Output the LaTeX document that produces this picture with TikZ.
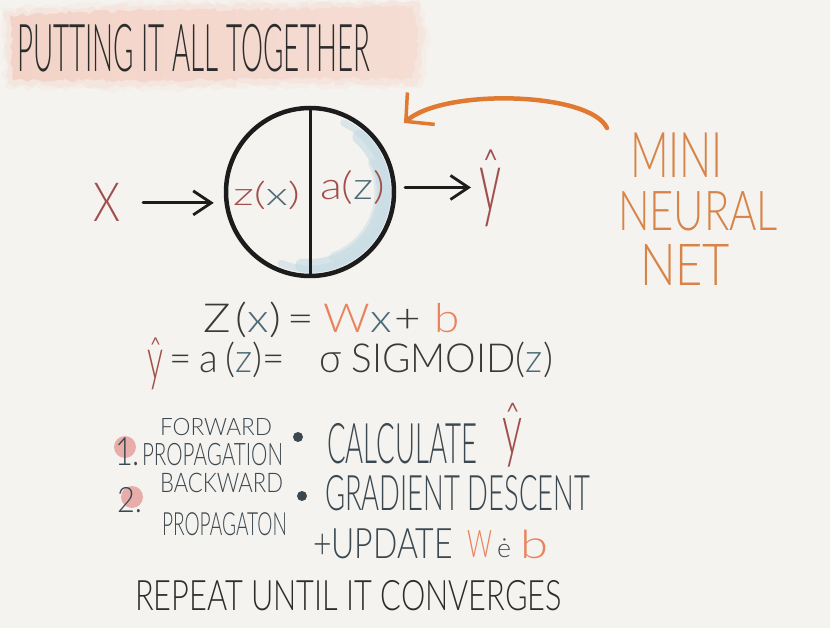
\documentclass[tikz,border=0pt]{standalone}
\usepackage{fontspec}
\usepackage{graphicx}
\usetikzlibrary{arrows.meta,decorations.pathmorphing}
\newfontfamily\hand{Lato Light}
\definecolor{bg}{HTML}{F4F3EF}
\definecolor{washL}{HTML}{F3D3C8}
\definecolor{washM}{HTML}{EFC3B5}
\definecolor{washR}{HTML}{F5DDD4}
\definecolor{titleink}{HTML}{2C2C2C}
\definecolor{ink}{HTML}{1C1C1C}
\definecolor{hred}{HTML}{A14F4C}
\definecolor{hblue}{HTML}{4E6A76}
\definecolor{orarrow}{HTML}{E07A32}
\definecolor{ortext}{HTML}{D88448}
\definecolor{wb}{HTML}{E8835E}
\definecolor{eqdark}{HTML}{3A3A3A}
\definecolor{stepink}{HTML}{3C4850}
\definecolor{pinkdot}{HTML}{E6A09D}
\definecolor{lblue}{HTML}{C3DAE3}
\newcommand\hw[3]{\resizebox{#1}{\height}{\fontsize{#2}{#2}\selectfont\hand #3}}
\newcommand\yhat[3]{\resizebox*{#1}{#2}{\fontsize{#3}{#3}\selectfont\hand ŷ}}
\begin{document}
\begin{tikzpicture}[x=1pt,y=-1pt,
  txt/.style={inner sep=0pt, outer sep=0pt, anchor=base west},
  ytx/.style={inner sep=0pt, outer sep=0pt, anchor=north west, text=hred},
  arr/.style={line width=2.8pt, draw=ink, line cap=round,
    -{Straight Barb[length=18pt,width=24pt]}}]
\pgfmathsetseed{7}
\fill[bg] (0,0) rectangle (830,628);
\useasboundingbox (0,0) rectangle (830,628);
% title wash (soft layered)
\fill[washR, opacity=.25, decorate, decoration={random steps,segment length=6pt,amplitude=3pt}]
  (2,8) -- (150,2) -- (300,1) -- (420,0) -- (429,30) -- (426,62) -- (421,88) -- (300,87) -- (150,90) -- (4,88) -- cycle;
\fill[washR, opacity=.45, decorate, decoration={random steps,segment length=5pt,amplitude=3pt}]
  (5,11) -- (150,5) -- (300,4) -- (417,2) -- (425,30) -- (422,62) -- (417,85) -- (300,83) -- (150,87) -- (7,85) -- cycle;
\shade[left color=washL, middle color=washM, right color=washR, decorate, decoration={random steps,segment length=4pt,amplitude=2pt}]
  (10,15) -- (150,10) -- (300,9) -- (412,6) -- (419,30) -- (416,60) -- (412,79) -- (300,78) -- (150,81) -- (13,80) -- cycle;
\node[txt, text=titleink] (title) at (17,72) {\hw{353pt}{66pt}{PUTTING IT ALL TOGETHER}};
% blue crescent
\draw[lblue, line width=7pt, opacity=.55, line cap=round] ([shift={(-64:77)}]310,192) arc[start angle=-64, end angle=112, radius=77];
\draw[lblue, line width=14pt, opacity=.6, line cap=round] ([shift={(-48:74)}]310,192) arc[start angle=-48, end angle=96, radius=74];
\draw[lblue, line width=9pt, opacity=.45, line cap=round] ([shift={(-25:69)}]310,192) arc[start angle=-25, end angle=70, radius=69];
% neuron
\node[circle, draw=ink, line width=4.5pt, minimum size=168pt, inner sep=0pt] (neuron) at (310,192) {};
\draw[ink, line width=3pt, shorten <=2pt, shorten >=2pt] (neuron.north) -- (neuron.south);
\node[txt] (zx) at (233,206) {\hw{67pt}{32pt}{\color{hred}z(\color{hblue}x\color{hred})}};
\node[txt] (az) at (320,200) {\hw{65pt}{38pt}{\color{hred}a(\color{hblue}z\color{hred})}};
% X and yhat
\node[txt, text=hred] (X) at (93,222) {\hw{27pt}{54pt}{X}};
\node[ytx] (yh) at (479,150) {\yhat{22pt}{77pt}{60pt}};
\draw[arr, shorten <=23pt, shorten >=10pt] (X.east) -- (X.east -| neuron.west);
\draw[arr, shorten <=9pt, shorten >=8pt] (neuron.3) -- (neuron.3 -| yh.west);
% mini neural net
\node[txt, text=ortext] (mini) at (630,178) {\hw{93pt}{63pt}{MINI}};
\node[txt, text=ortext] (neural) at (618,231) {\hw{160pt}{55pt}{NEURAL}};
\node[txt, text=ortext] (net) at (640,286) {\hw{90pt}{58pt}{NET}};
\coordinate (mstart) at (607,128);
\coordinate (otip) at (404,123);
\draw[orarrow, line width=4.5pt, line cap=round, -{Straight Barb[length=20pt,width=42pt,line width=3.5pt]}]
  (mstart) .. controls (590,92) and (445,88) .. (otip);
% equations
\node[txt] (eq1) at (203,333) {\hw{257pt}{40pt}{\color{eqdark}Z\kern.12em(\color{hblue}x\color{eqdark})\kern.15em=\kern.2em\color{wb}W\color{hblue}x\kern.05em\color{eqdark}+\kern.3em\color{wb}b}};
\node[ytx] (eq2y) at (147,338) {\yhat{16pt}{52pt}{44pt}};
\node[txt] (eq2) at (169,373) {\hw{384pt}{40pt}{\color{eqdark}=\kern.2em a\kern.2em(\color{hblue}z\color{eqdark})=\hspace{0.9em}σ\kern.25em SIGMOID(\color{hblue}z\color{eqdark})}};
% steps
\fill[pinkdot, opacity=.85] (125,447) circle[radius=11];
\fill[pinkdot, opacity=.85] (132,497) circle[radius=11];
\node[txt, text=stepink] (one) at (115,465) {\hw{25pt}{39pt}{1.}};
\node[txt, text=stepink] (fwd) at (160,435) {\hw{112pt}{24pt}{FORWARD}};
\node[txt, text=stepink] (prop1) at (142,465) {\hw{141pt}{31pt}{PROPAGATION}};
\fill[stepink] (298,437) circle[radius=5];
\node[txt, text=stepink] (calc) at (327,463) {\hw{150pt}{56pt}{CALCULATE}};
\node[ytx] (calcy) at (502,403) {\yhat{20pt}{64pt}{52pt}};
\node[txt, text=stepink] (two) at (117,512) {\hw{25pt}{35pt}{2.}};
\node[txt, text=stepink] (bwd) at (160,492) {\hw{123pt}{27pt}{BACKWARD}};
\node[txt, text=stepink] (prop2) at (162,535) {\hw{125pt}{32pt}{PROPAGATON}};
\fill[stepink] (302,496) circle[radius=5];
\node[txt, text=stepink] (grad) at (325,510) {\hw{265pt}{49pt}{GRADIENT DESCENT}};
\node[txt, text=stepink] (upd) at (313,558) {\hw{140pt}{42pt}{+UPDATE}};
\node[txt, text=wb] (uw) at (467,557) {\hw{25pt}{38pt}{W}};
\node[txt, text=stepink] (ue) at (497,557) {\hw{14pt}{26pt}{ė}};
\node[txt, text=wb] (ub) at (520,558) {\hw{28pt}{39pt}{b}};
\node[txt, text=titleink] (repeat) at (135,610) {\hw{427pt}{42pt}{REPEAT UNTIL IT CONVERGES}};
\end{tikzpicture}
\end{document}
